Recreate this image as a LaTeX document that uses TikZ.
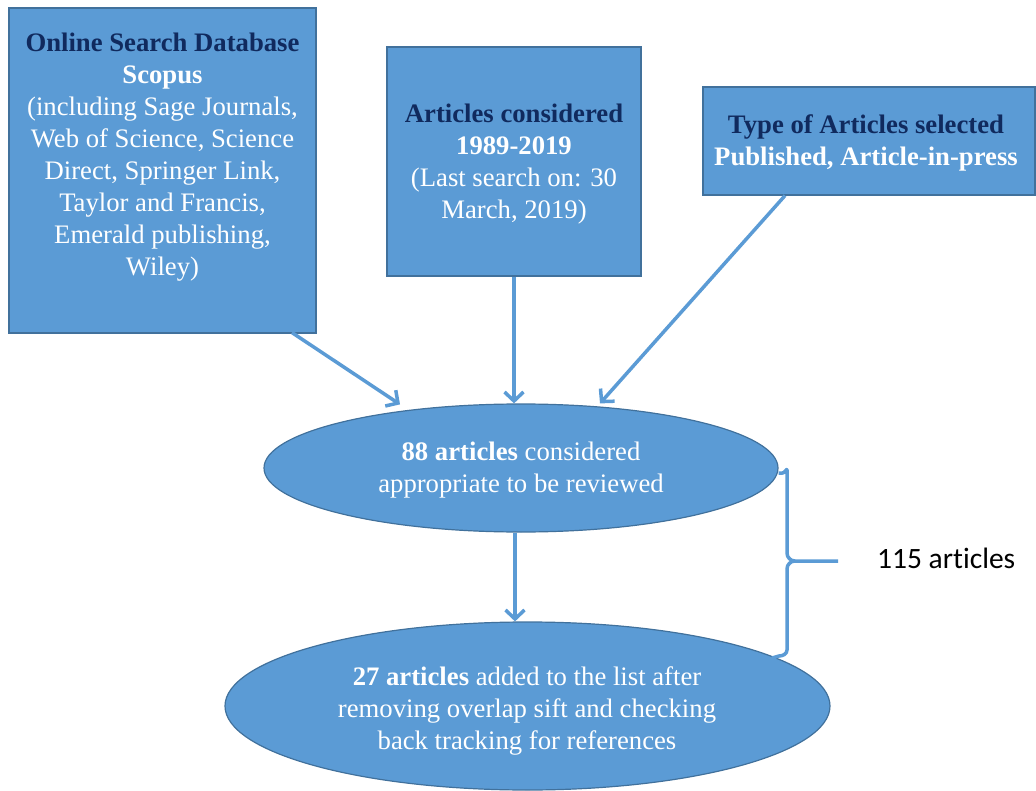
\documentclass[tikz,border=0pt]{standalone}
\usepackage{fontspec}
\setmainfont{Liberation Serif}
\newfontfamily\labelfont[Ligatures=NoCommon]{Carlito}
\usetikzlibrary{arrows.meta,shapes.geometric}
\definecolor{boxfill}{HTML}{5B9BD5}
\definecolor{boxline}{HTML}{41719C}
\definecolor{navy}{HTML}{102A5E}
\begin{document}
\begin{tikzpicture}[x=1pt,y=-1pt,
  box/.style={draw=boxline,line width=1.2pt,fill=boxfill,rectangle,inner sep=0pt},
  oval/.style={draw=boxline,line width=1.2pt,fill=boxfill,ellipse,inner sep=0pt},
  txt/.style={align=center,text=white,inner sep=0pt,
    font=\fontsize{26.7}{32}\selectfont},
  conn/.style={draw=boxfill,line width=3.5pt,
    -{Straight Barb[length=9pt,width=19pt]}},
  bracket/.style={draw=boxfill,line width=3.5pt,line join=round}]
\useasboundingbox (0,0) rectangle (1036,791);

% source boxes
\node[box,minimum width=307pt,minimum height=325pt] (db) at (162.5,170.5) {};
\node[txt] (dbtext) at (162.5,157) {\textbf{\textcolor{navy}{Online Search Database}}\\
  \textbf{Scopus}\\(including Sage Journals,\\Web of Science, Science\\
  Direct, Springer Link,\\Taylor and Francis,\\Emerald publishing,\\Wiley)};

\node[box,minimum width=254pt,minimum height=229pt] (period) at (514,161.5) {};
\node[txt] (periodtext) at (514,164) {\textbf{\textcolor{navy}{Articles considered}}\\
  \textbf{1989-2019}\\(Last search on: 30\\March, 2019)};

\node[box,minimum width=332pt,minimum height=108pt] (type) at (869,141) {};
\node[txt] (typetext) at (866,143) {\textbf{\textcolor{navy}{Type of Articles selected}}\\
  \textbf{Published, Article-in-press}};

% result ovals
\node[oval,minimum width=514pt,minimum height=128pt] (first) at (521,468) {};
\node[txt] (firsttext) at (521,470) {\textbf{88 articles} considered\\appropriate to be reviewed};

\node[oval,minimum width=605pt,minimum height=168pt] (second) at (527.5,706) {};
\node[txt] (secondtext) at (527,711) {\textbf{27 articles} added to the list after\\
  removing overlap sift and checking\\back tracking for references};

% connectors
\draw[conn] ([xshift=129.5pt,yshift=1pt]db.south) -- ([shift={(-121pt,-1pt)}]first.north);
\draw[conn] (period.south) -- (period.south |- first.north);
\draw[conn] ([xshift=-84pt]type.south) -- ([shift={(79pt,0pt)}]first.north);
\draw[conn] ([xshift=-6pt]first.south) -- ([xshift=-6pt]first.south |- second.north);

% total bracket
\coordinate (tip) at (838,561);
\draw[bracket] (first.east) ++(0,-5pt) -- ++(4pt,0)
  to[out=0,in=90] (787,470) -- (787,553) to[out=-90,in=180] (795,561) -- (tip);
\draw[bracket] (795,561) to[out=180,in=90] (787,569) -- (787,650)
  to[out=-90,in=0] (779,656) -- (772,658);
\node[anchor=west,inner sep=0pt,font=\labelfont\fontsize{29.5}{34}\selectfont] (total) at (877,558) {115 articles};
\end{tikzpicture}
\end{document}
